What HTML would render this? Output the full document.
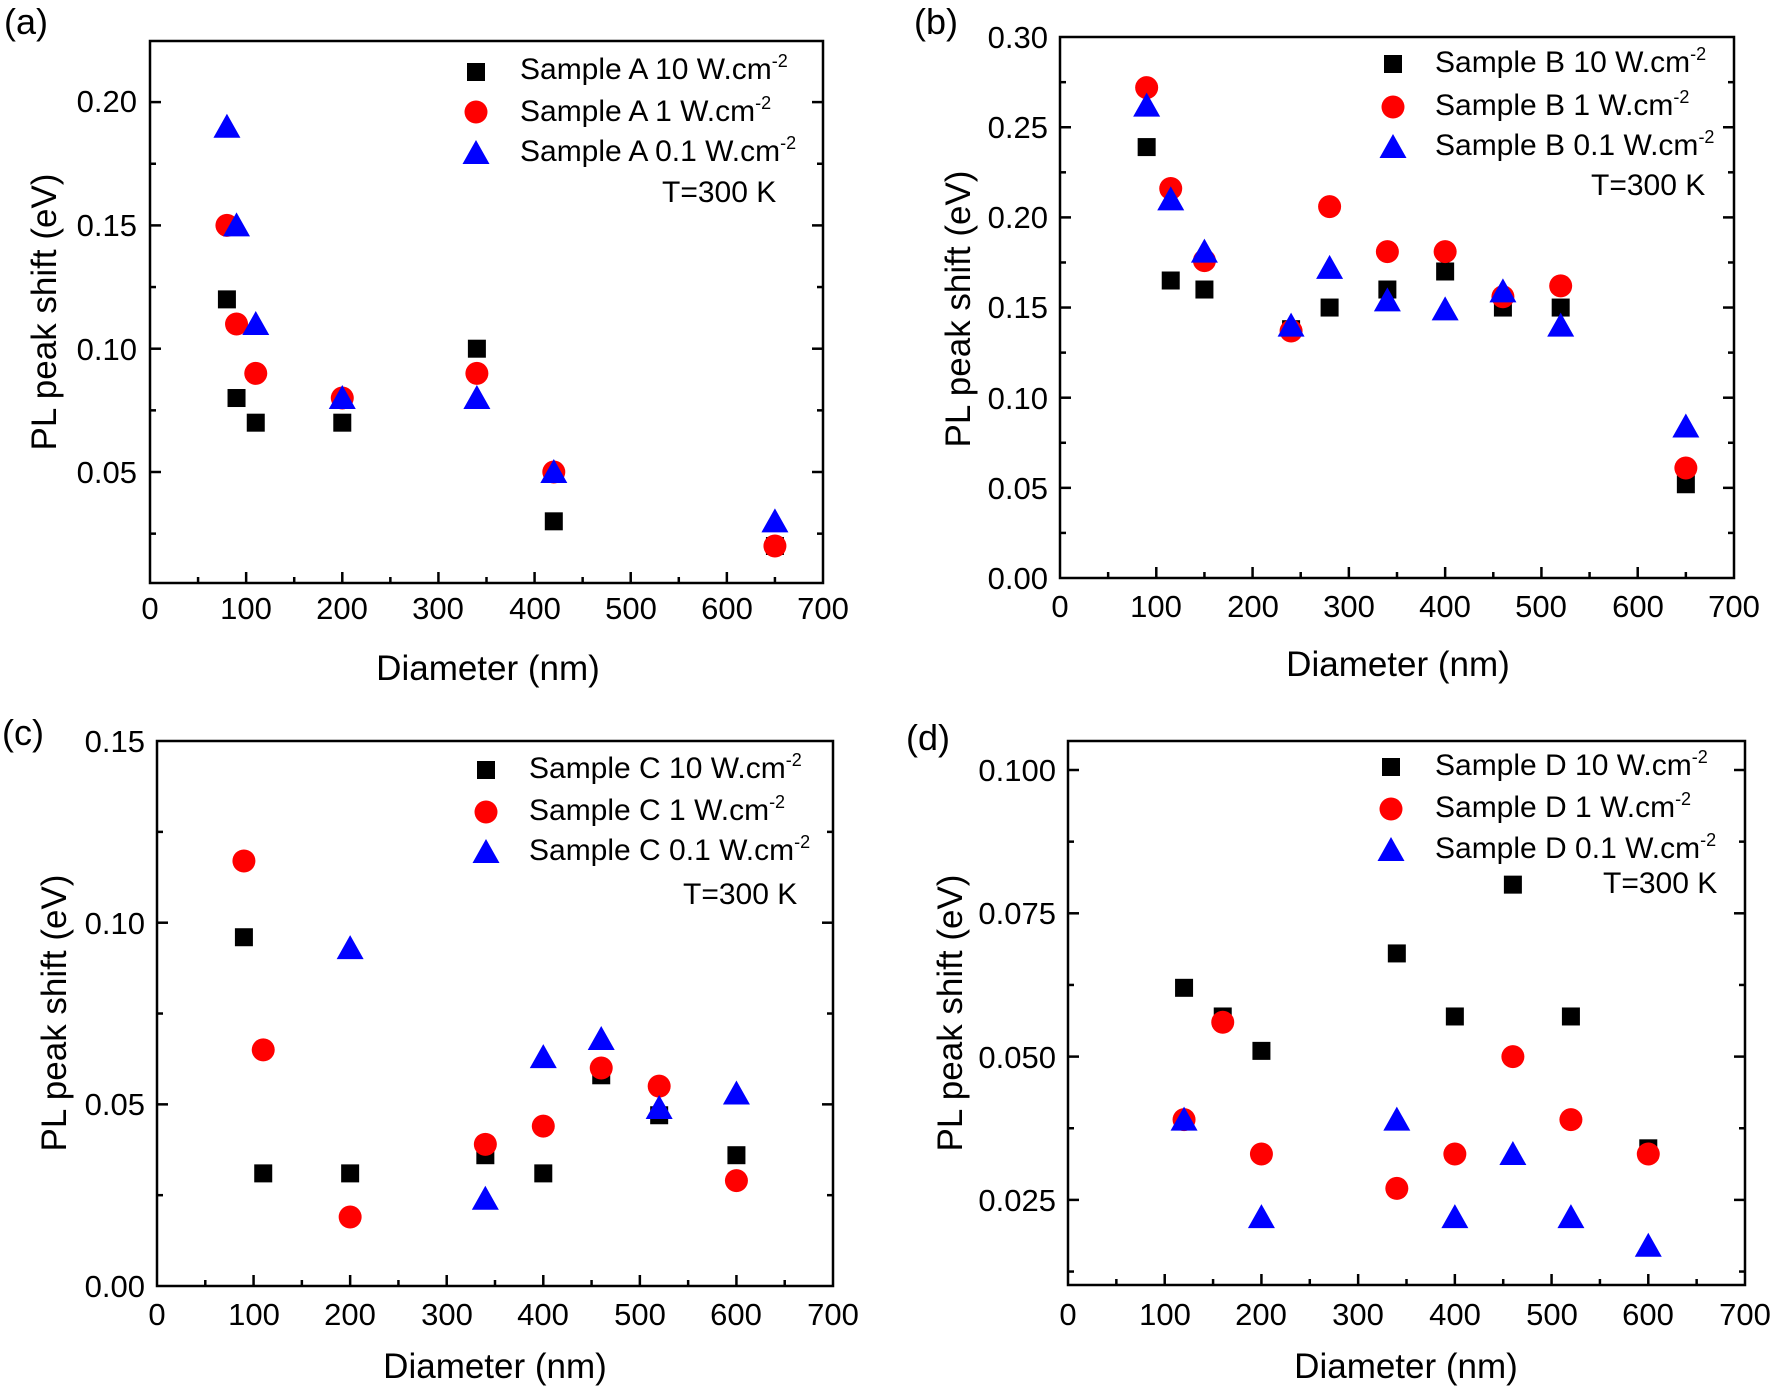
<!DOCTYPE html>
<html><head><meta charset="utf-8"><style>
html,body{margin:0;padding:0;background:#fff;}
svg{display:block;font-family:"Liberation Sans",sans-serif;}
.t{font-size:31px;fill:#000;}
.lg{font-size:30px;fill:#000;}
.sp{font-size:18px;}
.ti{font-size:35px;fill:#000;}
.pl{font-size:36px;fill:#000;}
</style></head><body>
<svg id="s" width="1770" height="1387" viewBox="0 0 1770 1387" xmlns="http://www.w3.org/2000/svg">
<rect width="1770" height="1387" fill="#fff"/>
<g fill="none" stroke="#000" stroke-width="2.5">
<path d="M150 41 H823 V583 H150 Z"/>
<path d="M1060 37 H1734 V578 H1060 Z"/>
<path d="M157 741 H833 V1286 H157 Z"/>
<path d="M1068 741 H1745 V1285 H1068 Z"/>
</g>
<g id="g"></g>
<text class="pl" x="4" y="34">(a)</text>
<text class="pl" x="914" y="34">(b)</text>
<text class="pl" x="2" y="745">(c)</text>
<text class="pl" x="906" y="750">(d)</text>

<g class="t" text-anchor="middle">
<text x="150" y="619">0</text><text x="246" y="619">100</text><text x="342" y="619">200</text><text x="438" y="619">300</text><text x="535" y="619">400</text><text x="631" y="619">500</text><text x="727" y="619">600</text><text x="823" y="619">700</text>
</g>
<g class="t" text-anchor="end">
<text x="137" y="483">0.05</text><text x="137" y="360">0.10</text><text x="137" y="236">0.15</text><text x="137" y="112">0.20</text>
</g>
<text class="ti" x="488" y="680" text-anchor="middle">Diameter (nm)</text>
<text class="ti" transform="translate(56,312) rotate(-90)" text-anchor="middle">PL peak shift (eV)</text>
<g class="lg">
<text x="520" y="79">Sample A 10 W.cm<tspan class="sp" dy="-12">-2</tspan></text>
<text x="520" y="121">Sample A 1 W.cm<tspan class="sp" dy="-12">-2</tspan></text>
<text x="520" y="161">Sample A 0.1 W.cm<tspan class="sp" dy="-12">-2</tspan></text>
<text x="662" y="202">T=300 K</text>
</g>

<g class="t" text-anchor="middle">
<text x="1060" y="617">0</text><text x="1156" y="617">100</text><text x="1253" y="617">200</text><text x="1349" y="617">300</text><text x="1445" y="617">400</text><text x="1541" y="617">500</text><text x="1638" y="617">600</text><text x="1734" y="617">700</text>
</g>
<g class="t" text-anchor="end">
<text x="1048" y="589">0.00</text><text x="1048" y="499">0.05</text><text x="1048" y="409">0.10</text><text x="1048" y="318">0.15</text><text x="1048" y="228">0.20</text><text x="1048" y="138">0.25</text><text x="1048" y="48">0.30</text>
</g>
<text class="ti" x="1398" y="676" text-anchor="middle">Diameter (nm)</text>
<text class="ti" transform="translate(970,309) rotate(-90)" text-anchor="middle">PL peak shift (eV)</text>
<g class="lg">
<text x="1435" y="72">Sample B 10 W.cm<tspan class="sp" dy="-12">-2</tspan></text>
<text x="1435" y="115">Sample B 1 W.cm<tspan class="sp" dy="-12">-2</tspan></text>
<text x="1435" y="155">Sample B 0.1 W.cm<tspan class="sp" dy="-12">-2</tspan></text>
<text x="1591" y="195">T=300 K</text>
</g>

<g class="t" text-anchor="middle">
<text x="157" y="1325">0</text><text x="254" y="1325">100</text><text x="350" y="1325">200</text><text x="447" y="1325">300</text><text x="543" y="1325">400</text><text x="640" y="1325">500</text><text x="736" y="1325">600</text><text x="833" y="1325">700</text>
</g>
<g class="t" text-anchor="end">
<text x="145" y="1297">0.00</text><text x="145" y="1115">0.05</text><text x="145" y="934">0.10</text><text x="145" y="752">0.15</text>
</g>
<text class="ti" x="495" y="1378" text-anchor="middle">Diameter (nm)</text>
<text class="ti" transform="translate(66,1013) rotate(-90)" text-anchor="middle">PL peak shift (eV)</text>
<g class="lg">
<text x="529" y="778">Sample C 10 W.cm<tspan class="sp" dy="-12">-2</tspan></text>
<text x="529" y="820">Sample C 1 W.cm<tspan class="sp" dy="-12">-2</tspan></text>
<text x="529" y="860">Sample C 0.1 W.cm<tspan class="sp" dy="-12">-2</tspan></text>
<text x="683" y="904">T=300 K</text>
</g>

<g class="t" text-anchor="middle">
<text x="1068" y="1325">0</text><text x="1165" y="1325">100</text><text x="1261" y="1325">200</text><text x="1358" y="1325">300</text><text x="1455" y="1325">400</text><text x="1552" y="1325">500</text><text x="1648" y="1325">600</text><text x="1745" y="1325">700</text>
</g>
<g class="t" text-anchor="end">
<text x="1056" y="1211">0.025</text><text x="1056" y="1068">0.050</text><text x="1056" y="924">0.075</text><text x="1056" y="781">0.100</text>
</g>
<text class="ti" x="1406" y="1378" text-anchor="middle">Diameter (nm)</text>
<text class="ti" transform="translate(962,1013) rotate(-90)" text-anchor="middle">PL peak shift (eV)</text>
<g class="lg">
<text x="1435" y="775">Sample D 10 W.cm<tspan class="sp" dy="-12">-2</tspan></text>
<text x="1435" y="817">Sample D 1 W.cm<tspan class="sp" dy="-12">-2</tspan></text>
<text x="1435" y="858">Sample D 0.1 W.cm<tspan class="sp" dy="-12">-2</tspan></text>
<text x="1603" y="893">T=300 K</text>
</g>
</svg>
<script>
var NS="http://www.w3.org/2000/svg",G=document.getElementById("g");
function el(n,a){var e=document.createElementNS(NS,n);for(var k in a)e.setAttribute(k,a[k]);G.appendChild(e);return e;}
function sq(x,y){el("rect",{x:x-9,y:y-9,width:18,height:18,fill:"#000"});}
function ci(x,y){el("ellipse",{cx:x,cy:y,rx:11.5,ry:11.5,fill:"#f00"});}
function tr(x,y){el("polygon",{points:(x-13.5)+","+(y+11)+" "+(x+13.5)+","+(y+11)+" "+x+","+(y-13),fill:"#00f"});}
var P=[
 {l:150,r:823,t:41,b:583,yv:function(v){return 472-(v-0.05)*2466;},ymin:0.0046,ymax:0.2247,ymaj:0.05,leg:[476,72,112,153],
  s:[[80,.12],[90,.08],[110,.07],[200,.07],[340,.10],[420,.03],[650,.02]],
  c:[[80,.15],[90,.11],[110,.09],[200,.08],[340,.09],[420,.05],[650,.02]],
  t:[[80,.19],[90,.15],[110,.11],[200,.08],[340,.08],[420,.05],[650,.03]]},
 {l:1060,r:1734,t:37,b:578,yv:function(v){return 578-v*1803;},ymin:0,ymax:0.3,ymaj:0.05,leg:[1393,64,107,147],
  s:[[90,.239],[115,.165],[150,.16],[240,.138],[280,.15],[340,.16],[400,.17],[460,.15],[520,.15],[650,.052]],
  c:[[90,.272],[115,.216],[150,.176],[240,.137],[280,.206],[340,.181],[400,.181],[460,.156],[520,.162],[650,.061]],
  t:[[90,.262],[115,.21],[150,.181],[240,.14],[280,.172],[340,.154],[400,.149],[460,.159],[520,.14],[650,.084]]},
 {l:157,r:833,t:741,b:1286,yv:function(v){return 1286-v*3633;},ymin:0,ymax:0.15,ymaj:0.05,leg:[486,770,812,852],
  s:[[90,.096],[110,.031],[200,.031],[340,.036],[400,.031],[460,.058],[520,.047],[600,.036]],
  c:[[90,.117],[110,.065],[200,.019],[340,.039],[400,.044],[460,.06],[520,.055],[600,.029]],
  t:[[200,.093],[340,.024],[400,.063],[460,.068],[520,.049],[600,.053]]},
 {l:1068,r:1745,t:741,b:1285,yv:function(v){return 770+(0.1-v)*5732;},ymin:0.0102,ymax:0.105,ymaj:0.025,leg:[1391,767,809,850],
  s:[[120,.062],[160,.057],[200,.051],[340,.068],[400,.057],[460,.080],[520,.057],[600,.034]],
  c:[[120,.039],[160,.056],[200,.033],[340,.027],[400,.033],[460,.050],[520,.039],[600,.033]],
  t:[[120,.039],[200,.022],[340,.039],[400,.022],[460,.033],[520,.022],[600,.017]]}
];
P.forEach(function(p){
 var xv=function(v){return p.l+v*(p.r-p.l)/700;};
 for(var v=50;v<700;v+=50){var L=(v%100==0)?11:6,x=xv(v);
  el("line",{x1:x,y1:p.b,x2:x,y2:p.b-L,stroke:"#000","stroke-width":2.5});
  el("line",{x1:x,y1:p.t,x2:x,y2:p.t+L,stroke:"#000","stroke-width":2.5});}
 var h=p.ymaj/2;
 for(var i=0;i<40;i++){var v=i*h;if(v<=p.ymin+1e-6||v>=p.ymax-1e-6)continue;var y=p.yv(v),L=(i%2==0)?11:6;
  el("line",{x1:p.l,y1:y,x2:p.l+L,y2:y,stroke:"#000","stroke-width":2.5});
  el("line",{x1:p.r,y1:y,x2:p.r-L,y2:y,stroke:"#000","stroke-width":2.5});}
 p.s.forEach(function(d){sq(xv(d[0]),p.yv(d[1]));});
 p.c.forEach(function(d){ci(xv(d[0]),p.yv(d[1]));});
 p.t.forEach(function(d){tr(xv(d[0]),p.yv(d[1]));});
 sq(p.leg[0],p.leg[1]);ci(p.leg[0],p.leg[2]);tr(p.leg[0],p.leg[3]);
});
</script>
</body></html>
